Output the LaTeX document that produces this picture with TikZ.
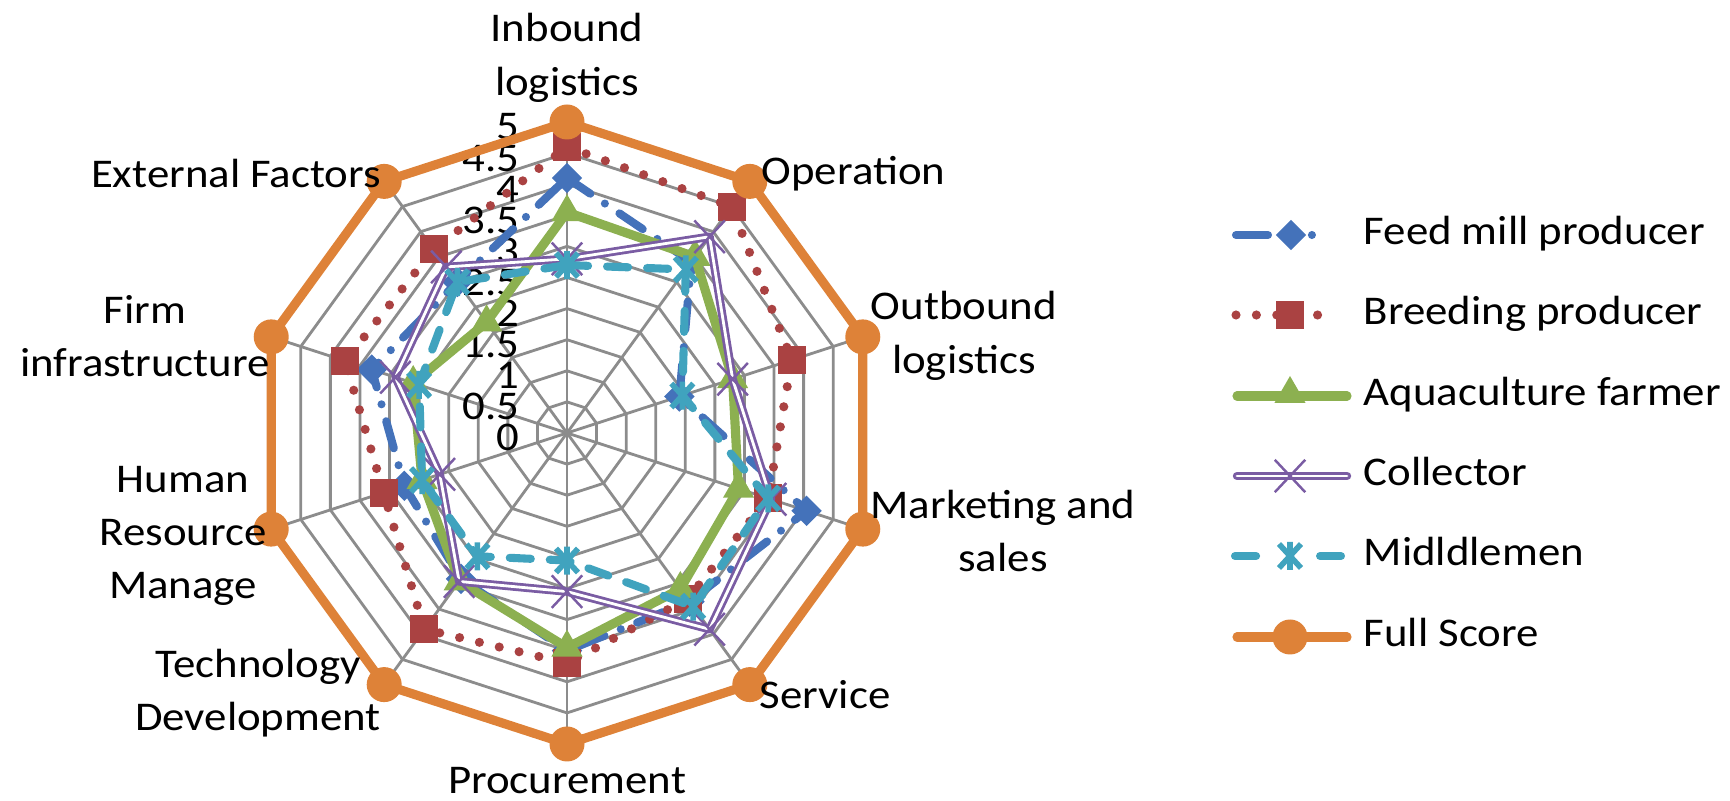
\documentclass[tikz,border=0pt]{standalone}
\usepackage{fontspec}
\setmainfont{Carlito}[FakeStretch=1.1]
\usetikzlibrary{shapes.geometric,shapes.misc}

\definecolor{fmblue}{RGB}{68,114,186}
\definecolor{bpred}{RGB}{170,66,66}
\definecolor{afgreen}{RGB}{140,176,80}
\definecolor{copurple}{RGB}{122,92,163}
\definecolor{mmcyan}{RGB}{64,163,190}
\definecolor{fsorange}{RGB}{222,130,56}
\definecolor{gridgray}{RGB}{140,140,140}

\newcommand\chartfont{\fontsize{11.6}{15.2}\selectfont}

% one point per axis, clockwise from the top
\newcommand\radarpts[2]{%
  \foreach \v [count=\i] in {#2}{%
    \coordinate (#1-\i) at ({90-36*(\i-1)}:{0.622*\v});}%
}
\newcommand\radarline[2]{%
  \draw[#2] (#1-1) \foreach \i in {2,...,10}{-- (#1-\i)} -- cycle;
}

\begin{document}
\begin{tikzpicture}[font=\chartfont,
    gridline/.style={draw=gridgray, line width=0.8pt},
    fmline/.style={draw=fmblue, line width=2.3pt, line cap=round, line join=round, dash pattern=on 8pt off 5pt on 0pt off 5pt},
    bpline/.style={draw=bpred, line width=2.6pt, line cap=round, dash pattern=on 0pt off 5.8pt},
    afline/.style={draw=afgreen, line width=2.6pt, line join=round},
    coline/.style={draw=copurple, double=white, double distance=0.8pt, line width=0.8pt, line join=round},
    mmline/.style={draw=mmcyan, line width=2.3pt, line cap=round, dash pattern=on 6pt off 5.4pt},
    fsline/.style={draw=fsorange, line width=2.6pt, line join=round},
    fmmark/.style={diamond, fill=fmblue, inner sep=0pt, minimum size=0.31cm},
    bpmark/.style={rectangle, fill=bpred, inner sep=0pt, minimum size=0.28cm},
    afmark/.style={regular polygon, regular polygon sides=3, fill=afgreen, inner sep=0pt, minimum size=0.36cm},
    comark/.style={cross out, draw=copurple, line width=0.7pt, inner sep=0pt, minimum width=0.28cm, minimum height=0.30cm},
    fsmark/.style={circle, fill=fsorange, inner sep=0pt, minimum size=0.35cm},
    mmstar/.pic={\draw[mmcyan, line width=1.6pt] (-0.11,-0.12) -- (0.11,0.12) (-0.11,0.12) -- (0.11,-0.12) (0,-0.14) -- (0,0.14);},
    catlabel/.style={align=center, inner sep=0pt},
    vallabel/.style={anchor=base east, inner sep=0pt},
    legtext/.style={anchor=base west, inner sep=0pt},
  ]
\useasboundingbox (-5.67,-3.67) rectangle (11.63,4.33);

% web
\coordinate (ctr) at (0,0);
\foreach \k in {1,...,10}
  \coordinate (ax-\k) at ({90-36*(\k-1)}:3.11);
\foreach \r in {1,...,10}{
  \draw[gridline] (90:{0.311*\r}) \foreach \k in {1,...,9}{-- ({90-36*\k}:{0.311*\r})} -- cycle;
}
\foreach \k in {1,...,10}
  \draw[gridline] (ctr) -- (ax-\k);

\foreach \t [count=\n from 0] in {0,0.5,1,1.5,2,2.5,3,3.5,4,4.5,5}
  \node[vallabel] (val-\n) at (-0.47,{0.311*\n-0.18}) {\t};

% series
\radarpts{fm}{4.1,3.4,1.9,4.05,3.35,3.5,2.9,2.75,3.3,3.0}
\radarpts{bp}{4.6,4.5,3.8,3.4,3.3,3.7,3.9,3.1,3.75,3.65}
\radarpts{af}{3.55,3.5,2.8,2.9,3.1,3.45,2.95,2.45,2.6,2.2}
\radarpts{co}{2.8,3.9,2.8,3.45,3.9,2.55,2.95,2.15,2.9,3.3}
\radarpts{mm}{2.7,3.25,1.95,3.4,3.45,2.05,2.45,2.45,2.5,3.0}
\radarpts{fs}{5,5,5,5,5,5,5,5,5,5}

\radarline{fm}{fmline}
\foreach \i in {1,...,10} \node[fmmark] (fmm-\i) at (fm-\i) {};
\radarline{bp}{bpline}
\foreach \i in {1,...,10} \node[bpmark] (bpm-\i) at (bp-\i) {};
\radarline{af}{afline}
\foreach \i in {1,...,10} \node[afmark] (afm-\i) at (af-\i) {};
\radarline{co}{coline}
\foreach \i in {1,...,10} \node[comark] (com-\i) at (co-\i) {};
\radarline{mm}{mmline}
\foreach \i in {1,...,10} \pic at (mm-\i) {mmstar};
\radarline{fs}{fsline}
\foreach \i in {1,...,10} \node[fsmark] (fsm-\i) at (fs-\i) {};

% axis names
\node[catlabel] (inb) at (0,3.75) {Inbound\\logistics};
\node[catlabel, anchor=west] (ope) at (1.94,2.59) {Operation};
\node[catlabel] (outb) at (3.97,0.97) {Outbound\\logistics};
\node[catlabel] (mkt) at (4.36,-0.98) {Marketing and\\sales};
\node[catlabel, anchor=west] (srv) at (1.92,-2.62) {Service};
\node[catlabel] (prc) at (0,-3.48) {Procurement};
\node[catlabel] (tech) at (-3.09,-2.60) {Technology\\Development};
\node[catlabel] (hrm) at (-3.84,-1.03) {Human\\Resource\\Manage};
\node[catlabel] (firm) at (-4.22,0.97) {Firm\\infrastructure};
\node[catlabel] (ext) at (-3.31,2.59) {External Factors};

% legend
\coordinate (lg1a) at (6.69,1.98); \coordinate (lg1b) at (7.46,1.98);
\draw[fmline, dash pattern=on 9.1pt off 12.5pt on 0pt off 20pt] (lg1a) -- (lg1b);
\node[fmmark] (lg1m) at (7.24,1.98) {};
\node[legtext] (lg1t) at (7.96,1.88) {Feed mill producer};

\coordinate (lg2a) at (6.69,1.18); \coordinate (lg2b) at (7.69,1.18);
\draw[bpline] (lg2a) -- (lg2b);
\node[bpmark] (lg2m) at (7.23,1.18) {};
\node[legtext] (lg2t) at (7.96,1.08) {Breeding producer};

\coordinate (lg3a) at (6.70,0.37); \coordinate (lg3b) at (7.80,0.37);
\draw[afline, line cap=round] (lg3a) -- (lg3b);
\node[afmark] (lg3m) at (7.23,0.39) {};
\node[legtext] (lg3t) at (7.96,0.27) {Aquaculture farmer};

\coordinate (lg4a) at (6.70,-0.43); \coordinate (lg4b) at (7.80,-0.43);
\draw[coline, line cap=round] (lg4a) -- (lg4b);
\node[comark] (lg4m) at (7.23,-0.43) {};
\node[legtext] (lg4t) at (7.96,-0.53) {Collector};

\coordinate (lg5a) at (6.68,-1.23); \coordinate (lg5b) at (7.74,-1.23);
\draw[mmline, dash pattern=on 6pt off 18.2pt] (lg5a) -- (lg5b);
\pic at (7.23,-1.23) {mmstar};
\node[legtext] (lg5t) at (7.96,-1.33) {Midldlemen};

\coordinate (lg6a) at (6.70,-2.04); \coordinate (lg6b) at (7.80,-2.04);
\draw[fsline, line cap=round] (lg6a) -- (lg6b);
\node[fsmark] (lg6m) at (7.23,-2.04) {};
\node[legtext] (lg6t) at (7.96,-2.14) {Full Score};
\end{tikzpicture}
\end{document}
